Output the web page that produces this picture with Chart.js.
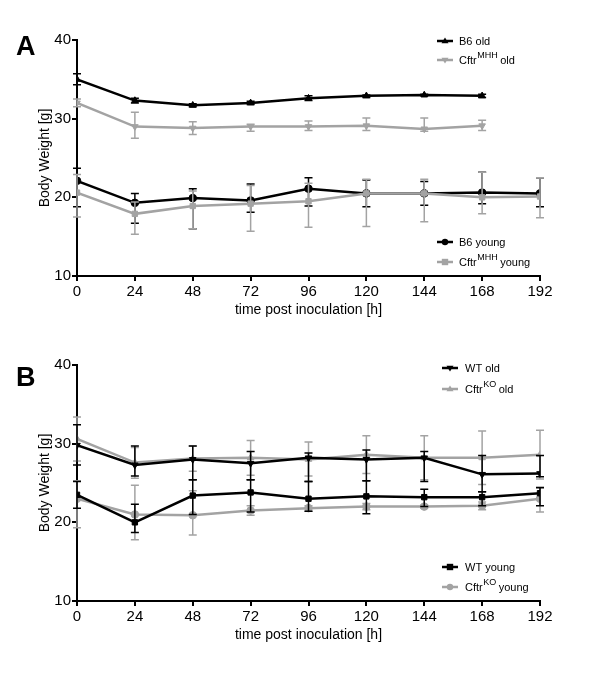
<!DOCTYPE html>
<html>
<head>
<meta charset="utf-8">
<script src="https://cdn.jsdelivr.net/npm/chart.js@4.4.1/dist/chart.umd.min.js"></script>
<style>
  body { margin: 0; background: #fff; }
  #wrap { position: relative; width: 600px; height: 675px; }
  canvas { position: absolute; left: 0; }
  .panel { position: absolute; font: bold 27px "Liberation Sans", Arial, sans-serif; line-height: 1; }
</style>
</head>
<body>
<div id="wrap">
  <canvas id="graficoA" width="600" height="325" style="top:0"></canvas>
  <canvas id="graficoB" width="600" height="325" style="top:325px"></canvas>
  <div class="panel" style="left:16px;top:33px">A</div>
  <div class="panel" style="left:16px;top:364px">B</div>
</div>
<script>
const horas = [0, 24, 48, 72, 96, 120, 144, 168, 192];

// painel A
const b6Old = [35.0, 32.3, 31.7, 32.0, 32.6, 32.9, 33.0, 32.9];
const b6OldHi = [35.7, 32.6, 31.9, 32.2, 32.9, 33.0, 33.1, 33.1];
const b6OldLo = [34.3, 32.0, 31.5, 31.8, 32.3, 32.7, 32.9, 32.7];
const mhhOld = [32.0, 29.0, 28.8, 29.0, 29.0, 29.1, 28.7, 29.1];
const mhhOldHi = [32.5, 30.8, 29.6, 29.3, 29.7, 30.1, 30.1, 29.8];
const mhhOldLo = [31.5, 27.5, 28.0, 28.4, 28.5, 28.5, 28.4, 28.5];
const b6Young = [22.1, 19.3, 19.9, 19.6, 21.1, 20.5, 20.5, 20.6, 20.5];
const b6YoungHi = [23.7, 20.5, 21.1, 21.7, 22.5, 22.2, 22.0, 23.2, 22.5];
const b6YoungLo = [18.8, 16.7, 16.0, 18.1, 18.9, 18.8, 19.0, 19.2, 18.8];
const mhhYoung = [20.6, 17.9, 18.9, 19.2, 19.5, 20.5, 20.5, 20.0, 20.1];
const mhhYoungHi = [22.9, 19.4, 20.8, 21.5, 21.8, 22.3, 22.3, 23.2, 22.5];
const mhhYoungLo = [17.5, 15.3, 16.0, 15.7, 16.2, 16.3, 16.9, 17.9, 17.4];

// painel B
const wtOld = [29.8, 27.3, 28.0, 27.5, 28.2, 28.0, 28.2, 26.1, 26.2];
const wtOldHi = [32.4, 29.7, 29.7, 29.0, 28.8, 29.2, 29.0, 28.5, 28.5];
const wtOldLo = [27.3, 25.9, 25.4, 25.4, 25.2, 25.3, 25.2, 23.9, 25.8];
const koOld = [30.6, 27.6, 28.1, 28.2, 28.0, 28.6, 28.2, 28.2, 28.6];
const koOldHi = [33.4, 29.5, 29.7, 30.4, 30.2, 31.0, 31.0, 31.6, 31.7];
const koOldLo = [27.8, 25.6, 26.5, 26.0, 25.9, 26.2, 25.4, 24.8, 25.5];
const wtYoung = [23.5, 20.0, 23.4, 23.8, 23.0, 23.3, 23.2, 23.2, 23.7];
const wtYoungHi = [25.2, 22.3, 25.4, 25.4, 25.2, 25.3, 24.2, 23.9, 24.4];
const wtYoungLo = [21.8, 18.7, 21.0, 21.3, 21.4, 21.1, 22.0, 22.1, 22.1];
const koYoung = [23.0, 21.0, 20.9, 21.5, 21.8, 22.0, 22.0, 22.1, 23.0];
const koYoungHi = [25.3, 24.7, 24.0, 22.1, 22.1, 22.4, 22.2, 22.6, 24.5];
const koYoungLo = [19.3, 17.8, 18.4, 20.9, 21.4, 21.6, 21.8, 21.6, 21.3];

const PRETO = '#000000';
const CINZA = '#a3a3a3';
const FONTE = '"Liberation Sans", Arial, sans-serif';
Chart.defaults.font.family = FONTE;
Chart.defaults.color = '#000';

function serie(valores, hi, lo, cor, estilo, rotacao, ordem) {
  return {
    data: valores.map((v, i) => ({ x: horas[i], y: v })),
    errHi: hi,
    errLo: lo,
    borderColor: cor,
    backgroundColor: cor,
    borderWidth: 2.5,
    pointStyle: estilo,
    pointRotation: rotacao,
    pointRadius: 3.8,
    pointBorderWidth: 1,
    tension: 0,
    order: ordem
  };
}

function desenharMarcador(ctx, estilo, rot, x, y, r, cor) {
  ctx.fillStyle = cor;
  ctx.beginPath();
  if (estilo === 'circle') {
    ctx.arc(x, y, r, 0, Math.PI * 2);
  } else if (estilo === 'rect') {
    ctx.rect(x - r, y - r, 2 * r, 2 * r);
  } else {
    const s = rot === 180 ? -1 : 1;
    ctx.moveTo(x, y - s * r * 1.1);
    ctx.lineTo(x + r * 1.1, y + s * r * 0.7);
    ctx.lineTo(x - r * 1.1, y + s * r * 0.7);
    ctx.closePath();
  }
  ctx.fill();
}

// barras de erro, desenhadas antes de cada serie
const barrasErro = {
  id: 'barrasErro',
  beforeDatasetDraw(chart, args) {
    const ds = chart.data.datasets[args.index];
    if (!ds.errHi) return;
    const { ctx, scales: { x, y } } = chart;
    ctx.save();
    ctx.strokeStyle = ds.borderColor;
    ctx.lineWidth = 1.5;
    ds.data.forEach((p, i) => {
      const px = x.getPixelForValue(p.x);
      const yh = y.getPixelForValue(ds.errHi[i]);
      const yl = y.getPixelForValue(ds.errLo[i]);
      ctx.beginPath();
      ctx.moveTo(px, yh); ctx.lineTo(px, yl);
      ctx.moveTo(px - 4, yh); ctx.lineTo(px + 4, yh);
      ctx.moveTo(px - 4, yl); ctx.lineTo(px + 4, yl);
      ctx.stroke();
    });
    ctx.restore();
  }
};

// legendas de cada painel (posicoes relativas a area do grafico)
const legendas = {
  graficoA: {
    dx: 360, textoX: 382,
    itens: [
      { texto: 'B6 old', cor: PRETO, estilo: 'triangle', rot: 0, dy: 1 },
      { texto: 'Cftr', sup: 'MHH', resto: 'old', cor: CINZA, estilo: 'triangle', rot: 180, dy: 20 },
      { texto: 'B6 young', cor: PRETO, estilo: 'circle', rot: 0, dy: 34, deBaixo: true },
      { texto: 'Cftr', sup: 'MHH', resto: 'young', cor: CINZA, estilo: 'rect', rot: 0, dy: 14, deBaixo: true }
    ]
  },
  graficoB: {
    dx: 365, textoX: 388,
    itens: [
      { texto: 'WT old', cor: PRETO, estilo: 'triangle', rot: 180, dy: 3 },
      { texto: 'Cftr', sup: 'KO', resto: 'old', cor: CINZA, estilo: 'triangle', rot: 0, dy: 24 },
      { texto: 'WT young', cor: PRETO, estilo: 'rect', rot: 0, dy: 34, deBaixo: true },
      { texto: 'Cftr', sup: 'KO', resto: 'young', cor: CINZA, estilo: 'circle', rot: 0, dy: 14, deBaixo: true }
    ]
  }
};

const legendaPainel = {
  id: 'legendaPainel',
  afterDraw(chart) {
    const cfg = legendas[chart.canvas.id];
    const { ctx, chartArea } = chart;
    ctx.save();
    cfg.itens.forEach(item => {
      const y = item.deBaixo ? chartArea.bottom - item.dy : chartArea.top + item.dy;
      const x0 = chartArea.left + cfg.dx;
      ctx.strokeStyle = item.cor;
      ctx.lineWidth = 2.5;
      ctx.beginPath();
      ctx.moveTo(x0, y); ctx.lineTo(x0 + 16, y);
      ctx.stroke();
      desenharMarcador(ctx, item.estilo, item.rot, x0 + 8, y, 3.2, item.cor);
      ctx.fillStyle = '#000';
      ctx.textBaseline = 'middle';
      ctx.textAlign = 'left';
      let tx = chartArea.left + cfg.textoX;
      ctx.font = '11px ' + FONTE;
      ctx.fillText(item.texto, tx, y + 1);
      tx += ctx.measureText(item.texto).width;
      if (item.sup) {
        ctx.font = '9px ' + FONTE;
        ctx.fillText(item.sup, tx + 0.5, y - 4);
        tx += ctx.measureText(item.sup).width;
        ctx.font = '11px ' + FONTE;
        ctx.fillText(item.resto, tx + 3, y + 1);
      }
    });
    ctx.restore();
  }
};

const opcoes = {
  responsive: false,
  animation: false,
  layout: { padding: { top: 40, right: 60, left: 0, bottom: 0 } },
  plugins: {
    legend: { display: false },
    tooltip: { enabled: false }
  },
  scales: {
    x: {
      type: 'linear', min: 0, max: 192,
      afterFit: (s) => { s.height = 49; },
      ticks: { stepSize: 24, color: '#000', font: { size: 15 }, padding: 2 },
      grid: { drawOnChartArea: false, tickLength: 5, color: '#000', lineWidth: 2 },
      border: { color: '#000', width: 2 },
      title: { display: true, text: 'time post inoculation [h]', color: '#000', font: { size: 14 }, padding: { top: 0, bottom: 6 } }
    },
    y: {
      min: 10, max: 40,
      afterFit: (s) => { s.width = 77; },
      ticks: { stepSize: 10, color: '#000', font: { size: 15 }, padding: 1 },
      grid: { drawOnChartArea: false, tickLength: 5, color: '#000', lineWidth: 2 },
      border: { color: '#000', width: 2 },
      title: { display: true, text: 'Body Weight [g]', color: '#000', font: { size: 14 }, padding: { top: 37, bottom: 0 } }
    }
  }
};

new Chart(document.getElementById('graficoA'), {
  type: 'line',
  data: {
    datasets: [
      serie(b6Old, b6OldHi, b6OldLo, PRETO, 'triangle', 0, 2),
      serie(mhhOld, mhhOldHi, mhhOldLo, CINZA, 'triangle', 180, 1),
      serie(b6Young, b6YoungHi, b6YoungLo, PRETO, 'circle', 0, 2),
      serie(mhhYoung, mhhYoungHi, mhhYoungLo, CINZA, 'rect', 0, 1)
    ]
  },
  options: opcoes,
  plugins: [barrasErro, legendaPainel]
});

new Chart(document.getElementById('graficoB'), {
  type: 'line',
  data: {
    datasets: [
      serie(wtOld, wtOldHi, wtOldLo, PRETO, 'triangle', 180, 1),
      serie(koOld, koOldHi, koOldLo, CINZA, 'triangle', 0, 2),
      serie(wtYoung, wtYoungHi, wtYoungLo, PRETO, 'rect', 0, 1),
      serie(koYoung, koYoungHi, koYoungLo, CINZA, 'circle', 0, 2)
    ]
  },
  options: opcoes,
  plugins: [barrasErro, legendaPainel]
});
</script>
</body>
</html>
